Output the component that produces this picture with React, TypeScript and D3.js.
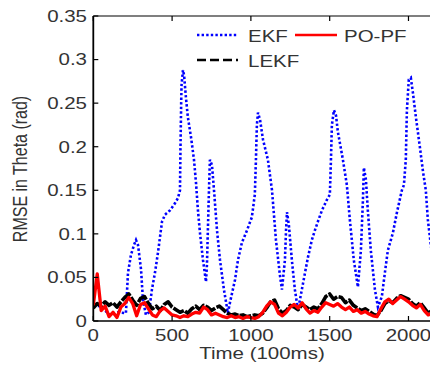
import React from "react";
import * as d3 from "d3";

const STEP = 25;
const EKF_T = [0, 42, 106, 157, 207, 220, 239, 258, 271, 284, 303, 315, 334, 353, 372, 391, 410, 423, 436, 455, 487, 518, 537, 550, 553, 558, 560, 569, 576, 588, 600, 620, 639, 652, 664, 677, 696, 715, 721, 727, 734, 740, 753, 766, 785, 804, 829, 854, 867, 899, 918, 943, 975, 1006, 1025, 1032, 1038, 1045, 1058, 1077, 1108, 1134, 1159, 1184, 1197, 1216, 1223, 1229, 1241, 1260, 1279, 1299, 1311, 1343, 1362, 1387, 1406, 1425, 1451, 1482, 1501, 1508, 1514, 1527, 1540, 1552, 1584, 1609, 1628, 1653, 1679, 1698, 1711, 1717, 1730, 1742, 1761, 1787, 1806, 1831, 1850, 1869, 1901, 1926, 1958, 1971, 1983, 1990, 2002, 2015, 2028, 2047, 2072, 2091, 2110, 2123, 2142, 2170];
const EKF_V = [0.018, 0.017, 0.007, 0.010, 0.009, 0.055, 0.076, 0.087, 0.093, 0.087, 0.059, 0.024, 0.007, 0.010, 0.036, 0.055, 0.078, 0.096, 0.114, 0.122, 0.127, 0.135, 0.141, 0.150, 0.196, 0.254, 0.271, 0.288, 0.282, 0.256, 0.234, 0.211, 0.185, 0.158, 0.127, 0.101, 0.070, 0.045, 0.064, 0.104, 0.150, 0.185, 0.179, 0.150, 0.104, 0.070, 0.036, 0.009, 0.021, 0.047, 0.070, 0.090, 0.104, 0.119, 0.145, 0.185, 0.225, 0.239, 0.231, 0.208, 0.185, 0.150, 0.093, 0.053, 0.036, 0.070, 0.104, 0.125, 0.110, 0.070, 0.036, 0.013, 0.024, 0.055, 0.073, 0.093, 0.104, 0.114, 0.127, 0.139, 0.145, 0.185, 0.225, 0.242, 0.236, 0.217, 0.185, 0.156, 0.116, 0.070, 0.039, 0.081, 0.139, 0.176, 0.162, 0.127, 0.081, 0.036, 0.016, 0.028, 0.055, 0.081, 0.101, 0.124, 0.150, 0.156, 0.185, 0.242, 0.277, 0.279, 0.262, 0.234, 0.200, 0.173, 0.150, 0.116, 0.087, 0.05];
const LEKF_V = [0.015, 0.02, 0.017, 0.022, 0.018, 0.021, 0.016, 0.022, 0.027, 0.031, 0.024, 0.018, 0.026, 0.028, 0.02, 0.014, 0.017, 0.012, 0.019, 0.022, 0.016, 0.013, 0.01, 0.012, 0.009, 0.014, 0.017, 0.013, 0.018, 0.016, 0.012, 0.015, 0.017, 0.013, 0.009, 0.007, 0.008, 0.006, 0.007, 0.005, 0.006, 0.007, 0.006, 0.009, 0.015, 0.022, 0.024, 0.014, 0.009, 0.012, 0.018, 0.016, 0.013, 0.019, 0.016, 0.013, 0.016, 0.014, 0.02, 0.028, 0.031, 0.025, 0.028, 0.027, 0.021, 0.024, 0.018, 0.015, 0.012, 0.014, 0.011, 0.008, 0.006, 0.012, 0.02, 0.023, 0.021, 0.026, 0.029, 0.027, 0.025, 0.02, 0.017, 0.021, 0.015, 0.009, 0.012, 0.008, 0.01];
const POPF_V = [0.018, 0.054, 0.012, 0.017, 0.005, 0.01, 0.004, 0.016, 0.02, 0.027, 0.02, 0.006, 0.019, 0.021, 0.014, 0.007, 0.005, 0.012, 0.015, 0.011, 0.007, 0.006, 0.004, 0.006, 0.005, 0.008, 0.01, 0.009, 0.016, 0.013, 0.007, 0.009, 0.007, 0.005, 0.004, 0.006, 0.004, 0.005, 0.003, 0.005, 0.004, 0.003, 0.005, 0.01, 0.017, 0.022, 0.019, 0.009, 0.006, 0.01, 0.016, 0.019, 0.015, 0.021, 0.014, 0.009, 0.012, 0.01, 0.016, 0.021, 0.019, 0.017, 0.02, 0.016, 0.013, 0.016, 0.011, 0.013, 0.009, 0.011, 0.008, 0.006, 0.005, 0.014, 0.022, 0.025, 0.02, 0.024, 0.028, 0.025, 0.022, 0.018, 0.015, 0.019, 0.012, 0.007, 0.009, 0.005, 0.007];
const X_TICKS = [0, 500, 1000, 1500, 2000];
const Y_TICKS = [0, 0.05, 0.1, 0.15, 0.2, 0.25, 0.3, 0.35];
const Y_TICK_LABELS = ["0", "0.05", "0.1", "0.15", "0.2", "0.25", "0.3", "0.35"];

const SX = 1.28;
const FONT = "'Liberation Sans', Arial, sans-serif";
const TXT = "#333";

export default function App() {
  const x = d3.scaleLinear().domain([0, 2200]).range([93.3, 440]);
  const y = d3.scaleLinear().domain([0, 0.35]).range([321, 16]);
  const left = x(0), right = 440, top = y(0.35), bottom = y(0);

  const ekf = EKF_T.map((t, i) => [t, EKF_V[i]] as [number, number]);
  const lekf = LEKF_V.map((v, i) => [i * STEP, v] as [number, number]);
  const popf = POPF_V.map((v, i) => [i * STEP, v] as [number, number]);
  const line = d3.line<[number, number]>().x(d => x(d[0])).y(d => y(d[1]));

  const T = (px: number, py: number, s: string, anchor: string, size = 16, rot = 0) => (
    <text
      key={s + px + py}
      transform={`translate(${px},${py}) scale(${SX},1)${rot ? ` rotate(${rot})` : ""}`}
      textAnchor={anchor}
      fontFamily={FONT}
      fontSize={size}
      fill={TXT}
    >
      {s}
    </text>
  );

  return (
    <svg width={430} height={365} style={{ position: "absolute", left: 0, top: 0, background: "#fff" }}>
      <defs>
        <clipPath id="plot">
          <rect x={left} y={top} width={right - left} height={bottom - top} />
        </clipPath>
      </defs>
      <rect x={0} y={0} width={430} height={365} fill="#fff" />
      <g clipPath="url(#plot)">
        <path d={line(ekf) || ""} fill="none" stroke="#0000ff" strokeWidth={2.6} strokeDasharray="2.4,2.2" />
        <path d={line(lekf) || ""} fill="none" stroke="#000" strokeWidth={3.6} strokeDasharray="12,1.5" strokeLinejoin="round" />
        <path d={line(popf) || ""} fill="none" stroke="#ff0000" strokeWidth={3.3} strokeLinejoin="round" />
      </g>
      {/* axes */}
      <line x1={left} x2={right} y1={top} y2={top} stroke="#000" strokeWidth={1.2} />
      <line x1={left} x2={right} y1={bottom} y2={bottom} stroke="#000" strokeWidth={1.6} />
      <line x1={left} x2={left} y1={top} y2={bottom} stroke="#000" strokeWidth={1.8} />
      {X_TICKS.map(t => (
        <g key={"xt" + t}>
          <line x1={x(t)} x2={x(t)} y1={bottom} y2={bottom - 5} stroke="#000" strokeWidth={1.2} />
          <line x1={x(t)} x2={x(t)} y1={top} y2={top + 5} stroke="#000" strokeWidth={1.2} />
        </g>
      ))}
      {Y_TICKS.map(t => (
        <line key={"yt" + t} x1={left} x2={left + 5} y1={y(t)} y2={y(t)} stroke="#000" strokeWidth={1.2} />
      ))}
      {X_TICKS.map(t => T(x(t), 341, String(t), "middle"))}
      {Y_TICKS.map((t, i) => T(87, y(t) + 5.8, Y_TICK_LABELS[i], "end"))}
      {T(262, 359, "Time (100ms)", "middle")}
      {T(27, 169, "RMSE in Theta (rad)", "middle", 16, -90)}
      {/* legend */}
      <line x1={197} x2={238} y1={35} y2={35} stroke="#0000ff" strokeWidth={2.6} strokeDasharray="2.4,2.2" />
      <line x1={295} x2={337} y1={35} y2={35} stroke="#ff0000" strokeWidth={2.6} />
      <line x1={197} x2={238} y1={60} y2={60} stroke="#000" strokeWidth={2.6} strokeDasharray="9,4" />
      {T(248, 41.7, "EKF", "start")}
      {T(344, 41.7, "PO-PF", "start")}
      {T(248, 66.5, "LEKF", "start")}
    </svg>
  );
}
